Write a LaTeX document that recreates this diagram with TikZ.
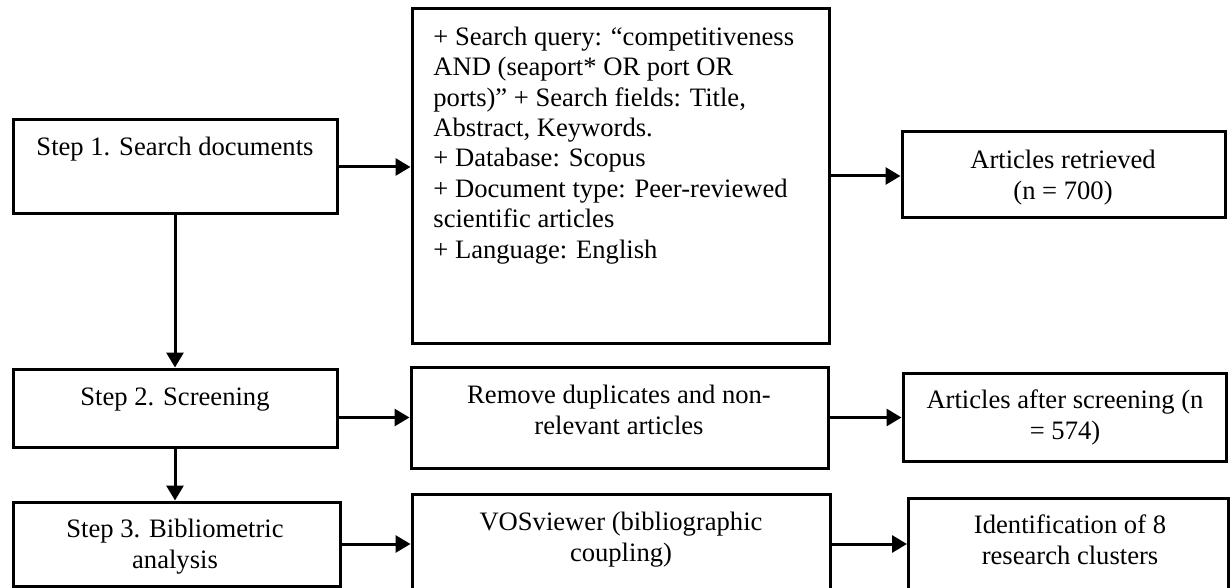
\documentclass[tikz,border=0pt]{standalone}
\usepackage{fontspec}
\setmainfont{Liberation Serif}
\usetikzlibrary{arrows.meta}
\begin{document}
\begin{tikzpicture}[x=0.5pt,y=-0.5pt,
  box/.style={draw=black,line width=1.5pt,rectangle,inner sep=0pt,fill=none},
  txt/.style={inner sep=0pt,align=center,anchor=north,font=\fontsize{13.3pt}{15.2pt}\selectfont},
  conn/.style={line width=1.5pt,-{Triangle[length=7.5pt,width=8.5pt]}}]
\useasboundingbox[fill=white] (0,0) rectangle (1231,588);
% boxes
\node[box,minimum width=162pt,minimum height=47pt] (s1) at (175,167) {};
\node[box,minimum width=208.5pt,minimum height=167pt] (q) at (620.5,176) {};
\node[box,minimum width=161.5pt,minimum height=43pt] (r) at (1063.5,175) {};
\node[box,minimum width=162pt,minimum height=39pt] (s2) at (175,408) {};
\node[box,minimum width=208.5pt,minimum height=50.5pt] (rm) at (619.5,417.5) {};
\node[box,minimum width=161.5pt,minimum height=44pt] (as) at (1064.5,417) {};
\node[box,minimum width=163.5pt,minimum height=42pt] (s3) at (176.5,544) {};
\node[box,minimum width=209pt,minimum height=53pt] (v) at (621,547) {};
\node[box,minimum width=160pt,minimum height=51pt] (id) at (1068.5,549) {};
% texts
\node[txt] (s1t) at (175,134) {\strut Step 1. Search documents};
\node[txt,anchor=north west,align=left] (qt) at (433,23.7) {\strut + Search query: “competitiveness\\AND (seaport* OR port OR\\ports)” + Search fields: Title,\\Abstract, Keywords.\\+ Database: Scopus\\+ Document type: Peer-reviewed\\scientific articles\\+ Language: English};
\node[txt] (rt) at (1063,147) {\strut Articles retrieved\\(n = 700)};
\node[txt] (s2t) at (175,384) {\strut Step 2. Screening};
\node[txt] (rmt) at (619,382) {\strut Remove duplicates and non-\\relevant articles};
\node[txt] (ast) at (1065,387) {\strut Articles after screening (n\\= 574)};
\node[txt] (s3t) at (175,516) {\strut Step 3. Bibliometric\\analysis};
\node[txt] (vt) at (621,509) {\strut VOSviewer (bibliographic\\coupling)};
\node[txt] (idt) at (1070,512) {\strut Identification of 8\\research clusters};
% connectors
\draw[conn] (s1.east) -- (s1.east -| q.west);
\draw[conn] (q.east) -- (q.east -| r.west);
\draw[conn] (s1.south) -- (s2.north);
\draw[conn] (rm.west -| s2.east) -- (rm.west);
\draw[conn] (rm.east) -- (rm.east -| as.west);
\draw[conn] (s2.south) -- (s2.south |- s3.north);
\draw[conn] (s3.east) -- (s3.east -| v.west);
\coordinate (vo) at (v.east |- s3.east);
\draw[conn] (vo) -- (vo -| id.west);
\end{tikzpicture}
\end{document}
